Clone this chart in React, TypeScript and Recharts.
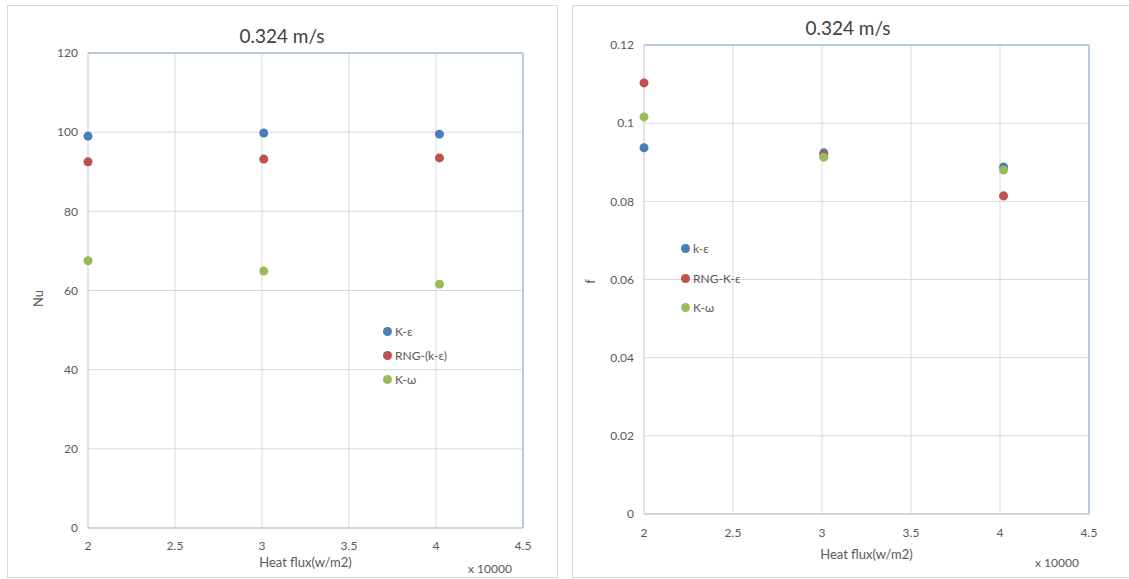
import {
  ScatterChart,
  Scatter,
  XAxis,
  YAxis,
  CartesianGrid,
  ReferenceLine,
  Legend,
} from 'recharts';

// heat flux (x 10000 W/m2)
const heatFlux = [2, 3.01, 4.02];
const xTicks = [2, 2.5, 3, 3.5, 4, 4.5];

// Nu panel
const nuTicks = [0, 20, 40, 60, 80, 100, 120];
const nuNames = ['K-ε', 'RNG-(k-ε)', 'K-ω'];
const nuKEps = [99.0, 99.8, 99.5];
const nuRng = [92.5, 93.2, 93.5];
const nuKOmega = [67.5, 64.9, 61.6];

// friction factor panel
const fTicks = [0, 0.02, 0.04, 0.06, 0.08, 0.1, 0.12];
const fNames = ['k-ε', 'RNG-K-ε', 'K-ω'];
const fKEps = [0.0937, 0.0924, 0.0888];
const fRng = [0.1103, 0.0919, 0.0814];
const fKOmega = [0.1016, 0.0913, 0.088];

const BLUE = '#4a7ebb';
const RED = '#c0504d';
const GREEN = '#9bbb59';
const TEXT = '#595959';
const FONT = 'Lato, "Open Sans", sans-serif';

const toPoints = (ys: number[]) => heatFlux.map((x, i) => ({ x, y: ys[i] }));

// keep legend rows in series order (recharts sorts them by name otherwise)
const legendContent = (rowH: number, order: string[]) => (props: any) => {
  const items = [...(props.payload || [])].sort(
    (a: any, b: any) => order.indexOf(a.value) - order.indexOf(b.value)
  );
  return (
    <div style={{ fontFamily: FONT, fontSize: 12, color: TEXT }}>
      {items.map((e: any) => (
        <div key={e.value} style={{ display: 'flex', alignItems: 'center', height: rowH }}>
          <span
            style={{ width: 9, height: 9, borderRadius: '50%', background: e.color, marginRight: 3 }}
          />
          <span>{e.value}</span>
        </div>
      ))}
    </div>
  );
};

const yLabel = (text: string, dx: number, dy: number) => (props: any) => {
  const vb = props.viewBox;
  const x = vb.x + dx;
  const y = vb.y + vb.height / 2 + dy;
  return (
    <text
      x={x}
      y={y}
      transform={`rotate(-90, ${x}, ${y})`}
      textAnchor="middle"
      dominantBaseline="central"
      fill={TEXT}
      fontSize={13}
      fontFamily={FONT}
    >
      {text}
    </text>
  );
};

const tickStyle = { fill: TEXT, fontSize: 12, fontFamily: FONT };

const panelStyle = (left: number, width: number): React.CSSProperties => ({
  position: 'absolute',
  left,
  top: 5,
  width,
  height: 573,
  boxSizing: 'border-box',
  border: '1px solid #d9d9d9',
  background: '#fff',
});

const titleStyle = (cx: number, top: number): React.CSSProperties => ({
  position: 'absolute',
  left: cx - 100,
  top,
  width: 200,
  textAlign: 'center',
  fontFamily: FONT,
  fontSize: 19,
  color: '#404040',
  whiteSpace: 'nowrap',
});

const noteStyle = (left: number, top: number): React.CSSProperties => ({
  position: 'absolute',
  left,
  top,
  fontFamily: FONT,
  fontSize: 12,
  color: TEXT,
  whiteSpace: 'nowrap',
});

export default function App() {
  return (
    <div
      style={{
        position: 'absolute',
        left: 0,
        top: 0,
        width: 1129,
        height: 579,
        overflow: 'hidden',
        background: '#fff',
      }}
    >
      {/* Nu vs heat flux */}
      <div style={panelStyle(7, 551)}>
        <ScatterChart width={549} height={571} margin={{ top: 47, right: 34, left: 30, bottom: 19 }}>
          <CartesianGrid stroke="#d9d9d9" />
          <XAxis
            type="number"
            dataKey="x"
            domain={[2, 4.5]}
            ticks={xTicks}
            tick={tickStyle}
            tickSize={0}
            tickMargin={13}
            height={30}
            stroke="#bfbfbf"
            label={{ value: 'Heat flux(w/m2)', position: 'bottom', offset: 0, fill: TEXT, fontSize: 13, fontFamily: FONT }}
          />
          <YAxis
            type="number"
            dataKey="y"
            domain={[0, 120]}
            ticks={nuTicks}
            tick={tickStyle}
            tickSize={0}
            tickMargin={10}
            width={50}
            stroke="#d9d9d9"
            label={{ content: yLabel('Nu', 0, 8) }}
          />
          <ReferenceLine y={120} stroke="#a7c0dd" strokeWidth={1.5} />
          <ReferenceLine x={4.5} stroke="#a7c0dd" strokeWidth={1.5} />
          <Legend
            layout="vertical"
            align="center"
            verticalAlign="middle"
            content={legendContent(24, nuNames)}
            wrapperStyle={{ left: 375, top: 313, width: 'auto' }}
          />
          <Scatter name={nuNames[0]} data={toPoints(nuKEps)} fill={BLUE} isAnimationActive={false} />
          <Scatter name={nuNames[1]} data={toPoints(nuRng)} fill={RED} isAnimationActive={false} />
          <Scatter name={nuNames[2]} data={toPoints(nuKOmega)} fill={GREEN} isAnimationActive={false} />
        </ScatterChart>
        <div style={titleStyle(274, 18)}>0.324 m/s</div>
        <div style={noteStyle(460, 555)}>x 10000</div>
      </div>

      {/* friction factor vs heat flux */}
      <div style={panelStyle(572, 570)}>
        <ScatterChart width={568} height={571} margin={{ top: 39, right: 52, left: 21, bottom: 33 }}>
          <CartesianGrid stroke="#d9d9d9" />
          <XAxis
            type="number"
            dataKey="x"
            domain={[2, 4.5]}
            ticks={xTicks}
            tick={tickStyle}
            tickSize={0}
            tickMargin={14}
            height={30}
            stroke="#bfbfbf"
            label={{ value: 'Heat flux(w/m2)', position: 'bottom', offset: 6, fill: TEXT, fontSize: 13, fontFamily: FONT }}
          />
          <YAxis
            type="number"
            dataKey="y"
            domain={[0, 0.12]}
            ticks={fTicks}
            tick={tickStyle}
            tickSize={0}
            tickMargin={10}
            width={50}
            stroke="#d9d9d9"
            label={{ content: yLabel('f', -4, 2) }}
          />
          <ReferenceLine y={0.12} stroke="#a7c0dd" strokeWidth={1.5} />
          <ReferenceLine x={4.5} stroke="#a7c0dd" strokeWidth={1.5} />
          <Legend
            layout="vertical"
            align="center"
            verticalAlign="middle"
            content={legendContent(29.5, fNames)}
            wrapperStyle={{ left: 108, top: 228, width: 'auto' }}
          />
          <Scatter name={fNames[0]} data={toPoints(fKEps)} fill={BLUE} isAnimationActive={false} />
          <Scatter name={fNames[1]} data={toPoints(fRng)} fill={RED} isAnimationActive={false} />
          <Scatter name={fNames[2]} data={toPoints(fKOmega)} fill={GREEN} isAnimationActive={false} />
        </ScatterChart>
        <div style={titleStyle(275, 10)}>0.324 m/s</div>
        <div style={noteStyle(462, 549)}>x 10000</div>
      </div>
    </div>
  );
}
